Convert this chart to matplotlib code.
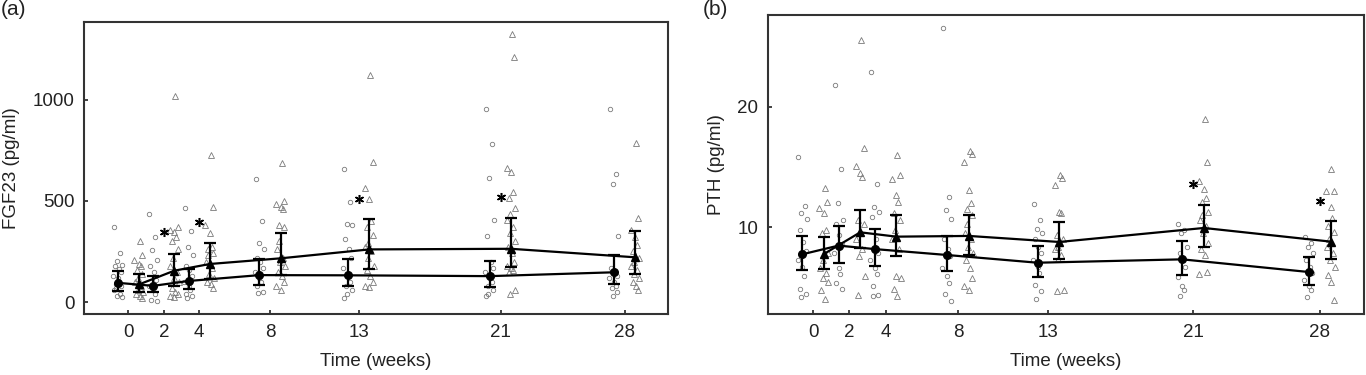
import matplotlib
matplotlib.use("Agg")
import matplotlib.pyplot as plt
import numpy as np

plt.rcParams['font.family'] = ['Liberation Sans', 'DejaVu Sans']

weeks = [0, 2, 4, 8, 13, 21, 28]
xtick_labels = ['0', '2', '4', '8', '13', '21', '28']

# ---- Panel (a): FGF23 ----
a_circle_mean = [95, 80, 104, 133, 132, 128, 147]
a_circle_lo = [54, 49, 63, 82, 80, 76, 89]
a_circle_hi = [153, 128, 165, 214, 211, 204, 232]
a_tri_mean = [87, 155, 188, 216, 260, 263, 221]
a_tri_lo = [49, 80, 112, 133, 165, 174, 138]
a_tri_hi = [138, 238, 293, 339, 408, 413, 351]

a_circle_pts = [
    [370, 240, 205, 185, 180, 165, 150, 130, 120, 100, 90, 80, 70, 60, 40, 30, 25],
    [435, 320, 255, 210, 180, 150, 110, 80, 60, 40, 10, 5],
    [465, 350, 270, 230, 180, 160, 130, 100, 80, 60, 40, 30, 20],
    [610, 400, 290, 260, 220, 200, 170, 150, 120, 100, 80, 50, 45],
    [655, 495, 385, 380, 311, 262, 220, 170, 130, 100, 80, 60, 40, 20],
    [953, 780, 614, 403, 327, 200, 170, 150, 120, 100, 80, 60, 40, 30],
    [953, 630, 584, 324, 170, 150, 130, 120, 100, 80, 70, 50, 30],
]
a_tri_pts = [
    [300, 230, 210, 190, 180, 160, 140, 120, 100, 80, 60, 50, 40, 30, 20],
    [1020, 370, 355, 345, 320, 300, 260, 220, 180, 150, 120, 100, 70, 50, 40, 30, 25],
    [725, 470, 380, 340, 270, 260, 240, 230, 200, 170, 140, 120, 100, 90, 70],
    [685, 500, 485, 470, 460, 380, 370, 300, 260, 220, 200, 180, 150, 130, 100, 80, 60],
    [1120, 690, 564, 510, 400, 370, 330, 290, 270, 250, 220, 180, 160, 130, 100, 80, 75],
    [1322, 1210, 662, 643, 542, 515, 463, 433, 405, 370, 340, 300, 270, 240, 200, 180,
     170, 160, 150, 60, 40],
    [784, 413, 356, 320, 280, 250, 220, 200, 180, 160, 140, 120, 100, 80, 60],
]
a_star_weeks = [2, 4, 13, 21]
a_star_vals = [344, 397, 509, 517]

# ---- Panel (b): PTH ----
b_circle_mean = [7.77, 8.49, 8.2, 7.71, 7.07, 7.35, 6.3]
b_circle_lo = [6.47, 7.07, 6.83, 6.38, 5.86, 6.05, 5.22]
b_circle_hi = [9.31, 10.14, 9.84, 9.29, 8.46, 8.87, 7.57]
b_tri_mean = [7.8, 9.59, 9.23, 9.29, 8.79, 9.95, 8.82]
b_tri_lo = [6.52, 8.27, 7.63, 7.71, 7.35, 8.35, 7.35]
b_tri_hi = [9.23, 11.44, 11.0, 11.03, 10.47, 11.88, 10.56]

b_circle_pts = [
    [15.8, 11.8, 11.2, 10.7, 9.8, 8.8, 8.0, 7.3, 6.7, 6.0, 4.9, 4.5, 4.2],
    [21.8, 14.8, 12.0, 10.6, 10.3, 9.4, 8.6, 7.85, 6.6, 6.1, 5.4, 4.9],
    [22.9, 13.6, 11.7, 11.3, 10.9, 9.0, 7.85, 7.3, 6.6, 6.1, 5.1, 4.4, 4.3],
    [26.5, 12.5, 11.4, 10.7, 9.0, 8.2, 7.6, 6.6, 6.0, 5.4, 4.5, 3.9],
    [11.9, 10.6, 9.9, 9.5, 9.0, 8.4, 7.85, 7.3, 6.7, 6.2, 5.2, 4.7, 4.1],
    [10.3, 9.8, 9.5, 8.4, 7.85, 7.3, 6.7, 5.9, 5.1, 4.8, 4.3],
    [9.2, 8.7, 8.4, 7.85, 7.3, 6.7, 6.2, 5.6, 5.1, 4.8, 4.25],
]
b_tri_pts = [
    [13.3, 12.1, 11.6, 11.2, 9.8, 9.5, 7.85, 7.3, 6.6, 6.2, 5.8, 5.5, 4.8, 4.1],
    [25.5, 16.6, 15.1, 14.5, 14.2, 10.6, 10.3, 9.5, 9.0, 8.2, 7.6, 6.0, 4.4],
    [16.0, 14.3, 14.0, 12.7, 12.1, 11.2, 10.6, 9.8, 9.0, 8.2, 6.0, 5.8, 4.9, 4.3],
    [16.3, 16.1, 15.4, 13.1, 12.0, 11.5, 11.0, 10.3, 9.5, 9.0, 8.4, 7.85, 7.3, 6.6,
     5.8, 5.1, 4.8],
    [14.3, 14.1, 13.5, 11.3, 11.2, 9.4, 9.0, 8.4, 8.2, 7.7, 7.4, 4.8, 4.7],
    [19.0, 15.4, 13.85, 13.2, 12.4, 12.1, 11.3, 11.0, 10.6, 10.1, 9.5, 8.7, 8.2, 7.7,
     6.3, 6.1],
    [14.8, 13.0, 13.0, 11.7, 10.8, 10.1, 9.6, 9.0, 8.4, 7.85, 7.3, 6.7, 6.05, 5.5, 4.0],
]
b_star_weeks = [21, 28]
b_star_vals = [13.6, 12.2]

# ---- style ----
OFF = 0.6
JIT = [-0.22, 0.12, -0.05, 0.24, -0.15, 0.05, 0.18, -0.26, 0.0, 0.1, -0.12, 0.2, -0.08]
PT_COL = '#7a7a7a'

fig = plt.figure(figsize=(13.66, 3.75), dpi=100)
ax_a = fig.add_axes([84 / 1366, 1 - 314 / 375, 584 / 1366, 292 / 375])
ax_b = fig.add_axes([768 / 1366, 1 - 314 / 375, 596 / 1366, 299 / 375])


def draw(ax, cpts, tpts, cm, clo, chi, tm, tlo, thi, sw, sv, ylim, yticks, ylabel):
    for i, w in enumerate(weeks):
        xc = [w - OFF + JIT[k % len(JIT)] for k in range(len(cpts[i]))]
        ax.plot(xc, cpts[i], linestyle='none', marker='o', ms=3.2, mfc='none',
                mec=PT_COL, mew=0.6, zorder=2)
        xt = [w + OFF + JIT[(k + 5) % len(JIT)] for k in range(len(tpts[i]))]
        ax.plot(xt, tpts[i], linestyle='none', marker='^', ms=3.8, mfc='none',
                mec=PT_COL, mew=0.6, zorder=2)
    xcm = [w - OFF for w in weeks]
    xtm = [w + OFF for w in weeks]
    cm_a = np.array(cm); tm_a = np.array(tm)
    ax.errorbar(xcm, cm, yerr=[cm_a - np.array(clo), np.array(chi) - cm_a],
                fmt='-o', color='black', ms=5.5, lw=1.6, elinewidth=1.6,
                capsize=4.5, capthick=1.6, zorder=4)
    ax.errorbar(xtm, tm, yerr=[tm_a - np.array(tlo), np.array(thi) - tm_a],
                fmt='-^', color='black', ms=6, lw=1.6, elinewidth=1.6,
                capsize=4.5, capthick=1.6, zorder=4)
    ax.plot(sw, sv, linestyle='none', marker=(6, 2, 0), ms=6.5, mec='black',
            mew=1.1, zorder=5)
    ax.set_xlim(-2.5, 30.45)
    ax.set_ylim(*ylim)
    ax.set_xticks(weeks)
    ax.set_xticklabels(xtick_labels)
    ax.set_yticks(yticks)
    ax.tick_params(direction='in', length=3, width=1.2, labelsize=13.5,
                   colors='#222222', pad=7)
    for s in ax.spines.values():
        s.set_linewidth(1.5)
        s.set_color('#333333')
    ax.set_xlabel('Time (weeks)', fontsize=13.5, color='#222222', labelpad=9)
    ax.set_ylabel(ylabel, fontsize=13.5, color='#222222', labelpad=9)


draw(ax_a, a_circle_pts, a_tri_pts, a_circle_mean, a_circle_lo, a_circle_hi,
     a_tri_mean, a_tri_lo, a_tri_hi, a_star_weeks, a_star_vals,
     (-59, 1383), [0, 500, 1000], 'FGF23 (pg/ml)')
draw(ax_b, b_circle_pts, b_tri_pts, b_circle_mean, b_circle_lo, b_circle_hi,
     b_tri_mean, b_tri_lo, b_tri_hi, b_star_weeks, b_star_vals,
     (2.82, 27.6), [10, 20], 'PTH (pg/ml)')

fig.text(1 / 1366, 1.0, '(a)', fontsize=15, va='top', ha='left', color='#222222')
fig.text(703 / 1366, 1.0, '(b)', fontsize=15, va='top', ha='left', color='#222222')

fig.savefig('out.png', dpi=100)
